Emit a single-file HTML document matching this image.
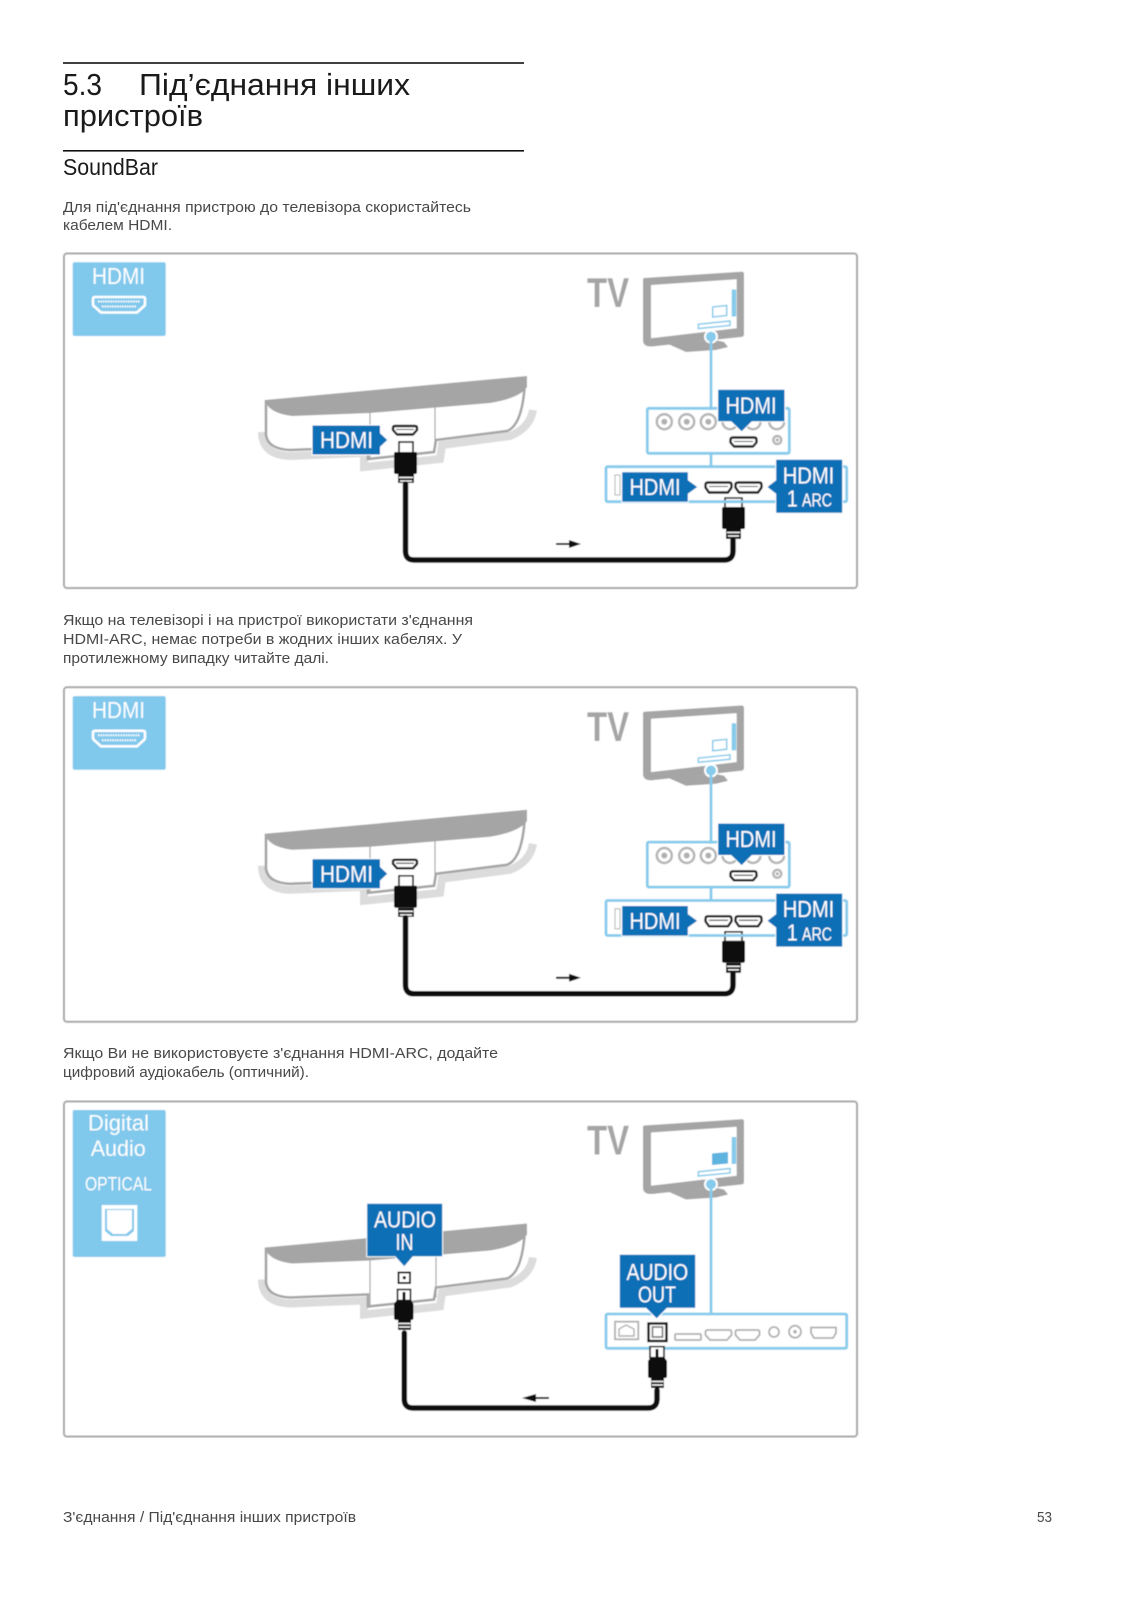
<!DOCTYPE html>
<html lang="uk"><head><meta charset="utf-8"><title>5.3 Під'єднання інших пристроїв</title>
<style>
html,body{margin:0;padding:0;background:#fff;width:1131px;height:1600px;overflow:hidden}
svg{display:block}
text{font-family:"Liberation Sans",sans-serif}
.b{font-size:15px;fill:#484848}
.w{fill:#fff}
.lb{fill:#0e6fb7;stroke:#fff;stroke-width:1;stroke-linejoin:round}
.pn{fill:none;stroke:#86cbec;stroke-width:2.8}
.pt{fill:#fff;stroke:#1a1a1a;stroke-width:2.4;stroke-linejoin:round}
.gr{fill:#fff;stroke:#b0b0b0;stroke-width:1.8}
.cb{fill:none;stroke:#0a0a0a;stroke-width:5.5;stroke-linecap:round}
.sh{fill:none;stroke:#dcdcdc;stroke-width:8}
.bd{fill:#fff;stroke:#a5a5a5;stroke-width:2.6}
</style></head><body>
<svg xmlns="http://www.w3.org/2000/svg" width="1131" height="1600" viewBox="0 0 1131 1600">
<defs><filter id="s" x="-2%" y="-2%" width="104%" height="104%"><feGaussianBlur stdDeviation="0.45"/></filter></defs>
<rect width="1131" height="1600" fill="#fff"/>
<rect x="63" y="62.2" width="461" height="1.6" fill="#111"/>
<rect x="63" y="150" width="461" height="1.6" fill="#111"/>
<text x="63" y="95" font-size="31" fill="#1a1a1a" textLength="39" lengthAdjust="spacingAndGlyphs">5.3</text>
<text x="139" y="95" font-size="31" fill="#1a1a1a" textLength="271" lengthAdjust="spacingAndGlyphs">Під’єднання інших</text>
<text x="63" y="126" font-size="31" fill="#1a1a1a" textLength="140" lengthAdjust="spacingAndGlyphs">пристроїв</text>
<text x="63" y="175" font-size="23" fill="#1a1a1a" textLength="95" lengthAdjust="spacingAndGlyphs">SoundBar</text>
<text class="b" x="63" y="212" textLength="408" lengthAdjust="spacingAndGlyphs">Для під'єднання пристрою до телевізора скористайтесь</text>
<text class="b" x="63" y="230" textLength="109" lengthAdjust="spacingAndGlyphs">кабелем HDMI.</text>
<text class="b" x="63" y="625" textLength="410" lengthAdjust="spacingAndGlyphs">Якщо на телевізорі і на пристрої використати з'єднання</text>
<text class="b" x="63" y="644" textLength="399" lengthAdjust="spacingAndGlyphs">HDMI-ARC, немає потреби в жодних інших кабелях. У</text>
<text class="b" x="63" y="663" textLength="266" lengthAdjust="spacingAndGlyphs">протилежному випадку читайте далі.</text>
<text class="b" x="63" y="1058" textLength="435" lengthAdjust="spacingAndGlyphs">Якщо Ви не використовуєте з'єднання HDMI-ARC, додайте</text>
<text class="b" x="63" y="1077" textLength="246" lengthAdjust="spacingAndGlyphs">цифровий аудіокабель (оптичний).</text>
<text class="b" x="63" y="1522" textLength="293" lengthAdjust="spacingAndGlyphs">З'єднання / Під'єднання інших пристроїв</text>
<text class="b" x="1037" y="1522" textLength="15" lengthAdjust="spacingAndGlyphs">53</text>

<!-- DIAGRAM 1 -->
<g filter="url(#s)">
<rect x="64" y="253.5" width="793" height="334.5" rx="3" fill="#fff" stroke="#a8a8a8" stroke-width="2"/>
<rect x="72.7" y="262.3" width="93" height="73.7" rx="2" fill="#80c8ec"/>
<text x="92" y="284" font-size="23.5" class="w" textLength="53" lengthAdjust="spacingAndGlyphs">HDMI</text>
<path d="M95 297H143Q145 297 145 299V304Q145 306 143 307L137 312.500H101L95 307Q93 306 93 304V299Q93 297 95 297Z" fill="none" stroke="#fff" stroke-width="2.600"/>
<path d="M98 301.500H140M102 306.500H136" stroke="#fff" stroke-width="2" stroke-dasharray="1.500 1"/>
<path class="sh" d="M262 432Q262 455 290 456L364 453V467L440 459L442 445L510 436Q530 428 533 410"/>
<path class="bd" d="M266 400V435Q268 449 290 450L368 447V459L434 452L436 440L507 431Q523 425 525 380"/>
<path d="M265 400L527 376V387Q520 398 490 403L370 413L292 416Q268 413 265 400Z" fill="#a5a5a5"/>
<path d="M370 412V459M435 405V450" stroke="#a5a5a5" stroke-width="1.200" fill="none"/>
<path class="lb" d="M312 425H380.500V433L388 440L380.500 447V455H312Z"/>
<text x="320" y="448" font-size="23.500" class="w" textLength="53" lengthAdjust="spacingAndGlyphs">HDMI</text>
<path class="pt" d="M395 426H415Q417 426 417 428V430L413 434.500H397L393 430V428Q393 426 395 426Z"/><path d="M396 429.500H414" stroke="#111" stroke-width="1"/>
<rect x="399" y="442" width="14" height="11" fill="#fff" stroke="#111" stroke-width="1.600"/>
<path d="M396 452H416Q417 452 417 454V472Q417 474 415 474H396Q394 474 394 472V454Q394 452 396 452Z" fill="#0a0a0a"/>
<path d="M398 474H414V483H398Z" fill="#111"/><path d="M399 477.500H413M400 481H412" stroke="#fff" stroke-width="1.400"/>
<path class="cb" d="M405.500 484V551Q405.500 560 414 560H724Q733 560 733 551V540"/>
<path d="M725 498H742V508H725Z" fill="#fff" stroke="#111" stroke-width="1.600"/>
<path d="M724 507H744Q745 507 745 509V527Q745 529 743 529H724Q722 529 722 527V509Q722 507 724 507Z" fill="#0a0a0a"/>
<path d="M726 529H741V539H726Z" fill="#111"/><path d="M727 532.500H740M728 536H739" stroke="#fff" stroke-width="1.400"/>
<path d="M556 544H570" stroke="#111" stroke-width="2"/><path d="M569 540L581 544L569 548Z" fill="#111"/>
<text x="587" y="307" font-size="42" font-weight="bold" fill="#a5a5a5" textLength="42" lengthAdjust="spacingAndGlyphs">TV</text>
<path d="M668 344L686 352L716 350L728 347L724 342L715 340Z" fill="#a5a5a5"/>
<path d="M644 278L741 271.700Q744 271.500 744 274V334Q744 337 741 337L652 346.500Q643 347 643 340V279Z" fill="#a5a5a5"/>
<path d="M651 285L736.700 279.300V328.300L651 338.300Z" fill="#fff"/>
<rect x="731.700" y="289.500" width="4.500" height="27" fill="#86cbec"/>
<path d="M712.700 307L726.700 305.500V315.500L712.700 317Z" fill="none" stroke="#86cbec" stroke-width="1.500"/>
<path d="M698.300 324.300L730 321V325.500L698.300 328.500Z" fill="none" stroke="#86cbec" stroke-width="1.500"/>
<circle cx="711" cy="336.700" r="7" fill="#fff"/><circle cx="711" cy="336.700" r="5" fill="#86cbec"/>
<path d="M711 340V410M711 453V467" stroke="#86cbec" stroke-width="2.800"/>
<rect class="pn" x="647.300" y="408.300" width="142" height="45" rx="1.500"/>
<g fill="#fff" stroke="#b5b5b5" stroke-width="2.500"><circle cx="664.300" cy="421.700" r="7.500"/><circle cx="686.700" cy="421.700" r="7.500"/><circle cx="708.300" cy="421.700" r="7.500"/><circle cx="730" cy="421.700" r="7.500"/><circle cx="753" cy="421.700" r="7.500"/><circle cx="776.700" cy="421.700" r="7.500"/><circle cx="777.300" cy="440" r="4"/></g>
<g fill="#b0b0b0"><circle cx="664.300" cy="421.700" r="3"/><circle cx="686.700" cy="421.700" r="3"/><circle cx="708.300" cy="421.700" r="3"/><circle cx="777.300" cy="440" r="1.600"/></g>
<path class="lb" d="M717.700 389.300H785V421.700H752L741.700 432L731 421.700H717.700Z"/>
<text x="725.500" y="413.300" font-size="23.500" class="w" textLength="51" lengthAdjust="spacingAndGlyphs">HDMI</text>
<path class="pt" d="M733 437.500H754.500Q756.500 437.500 756.500 440V442.500L753 446.500H734L730.500 442.500V440Q730.500 437.500 733 437.500Z"/><path d="M734 441.500H753" stroke="#111" stroke-width="1"/>
<rect class="pn" x="606" y="466.700" width="240.700" height="35" rx="1.500"/>
<rect x="615" y="475" width="5" height="20" fill="#fff" stroke="#b0b0b0"/>
<path class="lb" d="M621.700 471.700H688.300V480L698 487L688.300 494V502.300H621.700Z"/>
<text x="629.500" y="495" font-size="23.500" class="w" textLength="51" lengthAdjust="spacingAndGlyphs">HDMI</text>
<path class="pt" d="M708 482.500H729.500Q731.500 482.500 731.500 485V487.500L728 492.500H709L705.500 487.500V485Q705.500 482.500 708 482.500Z"/><path d="M709 486.500H728" stroke="#111" stroke-width="1"/>
<path class="pt" d="M738 482.500H759.500Q761.500 482.500 761.500 485V487.500L758 492.500H739L735.500 487.500V485Q735.500 482.500 738 482.500Z"/><path d="M739 486.500H758" stroke="#111" stroke-width="1"/>
<path class="lb" d="M775.700 459.300H842.700V513.300H775.700V494L766.700 487L775.700 480Z"/>
<text x="782.700" y="483.300" font-size="23.500" class="w" textLength="51.600" lengthAdjust="spacingAndGlyphs">HDMI</text>
<text x="786.700" y="506.700" font-size="23.500" class="w" textLength="11" lengthAdjust="spacingAndGlyphs">1</text>
<text x="802" y="506.700" font-size="18" class="w" textLength="30" lengthAdjust="spacingAndGlyphs">ARC</text>
</g>

<!-- DIAGRAM 2 -->
<g filter="url(#s)" transform="translate(0,433.800)">
<rect x="64" y="253.5" width="793" height="334.5" rx="3" fill="#fff" stroke="#a8a8a8" stroke-width="2"/>
<rect x="72.7" y="262.3" width="93" height="73.7" rx="2" fill="#80c8ec"/>
<text x="92" y="284" font-size="23.5" class="w" textLength="53" lengthAdjust="spacingAndGlyphs">HDMI</text>
<path d="M95 297H143Q145 297 145 299V304Q145 306 143 307L137 312.500H101L95 307Q93 306 93 304V299Q93 297 95 297Z" fill="none" stroke="#fff" stroke-width="2.600"/>
<path d="M98 301.500H140M102 306.500H136" stroke="#fff" stroke-width="2" stroke-dasharray="1.500 1"/>
<path class="sh" d="M262 432Q262 455 290 456L364 453V467L440 459L442 445L510 436Q530 428 533 410"/>
<path class="bd" d="M266 400V435Q268 449 290 450L368 447V459L434 452L436 440L507 431Q523 425 525 380"/>
<path d="M265 400L527 376V387Q520 398 490 403L370 413L292 416Q268 413 265 400Z" fill="#a5a5a5"/>
<path d="M370 412V459M435 405V450" stroke="#a5a5a5" stroke-width="1.200" fill="none"/>
<path class="lb" d="M312 425H380.500V433L388 440L380.500 447V455H312Z"/>
<text x="320" y="448" font-size="23.500" class="w" textLength="53" lengthAdjust="spacingAndGlyphs">HDMI</text>
<path class="pt" d="M395 426H415Q417 426 417 428V430L413 434.500H397L393 430V428Q393 426 395 426Z"/><path d="M396 429.500H414" stroke="#111" stroke-width="1"/>
<rect x="399" y="442" width="14" height="11" fill="#fff" stroke="#111" stroke-width="1.600"/>
<path d="M396 452H416Q417 452 417 454V472Q417 474 415 474H396Q394 474 394 472V454Q394 452 396 452Z" fill="#0a0a0a"/>
<path d="M398 474H414V483H398Z" fill="#111"/><path d="M399 477.500H413M400 481H412" stroke="#fff" stroke-width="1.400"/>
<path class="cb" d="M405.500 484V551Q405.500 560 414 560H724Q733 560 733 551V540"/>
<path d="M725 498H742V508H725Z" fill="#fff" stroke="#111" stroke-width="1.600"/>
<path d="M724 507H744Q745 507 745 509V527Q745 529 743 529H724Q722 529 722 527V509Q722 507 724 507Z" fill="#0a0a0a"/>
<path d="M726 529H741V539H726Z" fill="#111"/><path d="M727 532.500H740M728 536H739" stroke="#fff" stroke-width="1.400"/>
<path d="M556 544H570" stroke="#111" stroke-width="2"/><path d="M569 540L581 544L569 548Z" fill="#111"/>
<text x="587" y="307" font-size="42" font-weight="bold" fill="#a5a5a5" textLength="42" lengthAdjust="spacingAndGlyphs">TV</text>
<path d="M668 344L686 352L716 350L728 347L724 342L715 340Z" fill="#a5a5a5"/>
<path d="M644 278L741 271.700Q744 271.500 744 274V334Q744 337 741 337L652 346.500Q643 347 643 340V279Z" fill="#a5a5a5"/>
<path d="M651 285L736.700 279.300V328.300L651 338.300Z" fill="#fff"/>
<rect x="731.700" y="289.500" width="4.500" height="27" fill="#86cbec"/>
<path d="M712.700 307L726.700 305.500V315.500L712.700 317Z" fill="none" stroke="#86cbec" stroke-width="1.500"/>
<path d="M698.300 324.300L730 321V325.500L698.300 328.500Z" fill="none" stroke="#86cbec" stroke-width="1.500"/>
<circle cx="711" cy="336.700" r="7" fill="#fff"/><circle cx="711" cy="336.700" r="5" fill="#86cbec"/>
<path d="M711 340V410M711 453V467" stroke="#86cbec" stroke-width="2.800"/>
<rect class="pn" x="647.300" y="408.300" width="142" height="45" rx="1.500"/>
<g fill="#fff" stroke="#b5b5b5" stroke-width="2.500"><circle cx="664.300" cy="421.700" r="7.500"/><circle cx="686.700" cy="421.700" r="7.500"/><circle cx="708.300" cy="421.700" r="7.500"/><circle cx="730" cy="421.700" r="7.500"/><circle cx="753" cy="421.700" r="7.500"/><circle cx="776.700" cy="421.700" r="7.500"/><circle cx="777.300" cy="440" r="4"/></g>
<g fill="#b0b0b0"><circle cx="664.300" cy="421.700" r="3"/><circle cx="686.700" cy="421.700" r="3"/><circle cx="708.300" cy="421.700" r="3"/><circle cx="777.300" cy="440" r="1.600"/></g>
<path class="lb" d="M717.700 389.300H785V421.700H752L741.700 432L731 421.700H717.700Z"/>
<text x="725.500" y="413.300" font-size="23.500" class="w" textLength="51" lengthAdjust="spacingAndGlyphs">HDMI</text>
<path class="pt" d="M733 437.500H754.500Q756.500 437.500 756.500 440V442.500L753 446.500H734L730.500 442.500V440Q730.500 437.500 733 437.500Z"/><path d="M734 441.500H753" stroke="#111" stroke-width="1"/>
<rect class="pn" x="606" y="466.700" width="240.700" height="35" rx="1.500"/>
<rect x="615" y="475" width="5" height="20" fill="#fff" stroke="#b0b0b0"/>
<path class="lb" d="M621.700 471.700H688.300V480L698 487L688.300 494V502.300H621.700Z"/>
<text x="629.500" y="495" font-size="23.500" class="w" textLength="51" lengthAdjust="spacingAndGlyphs">HDMI</text>
<path class="pt" d="M708 482.500H729.500Q731.500 482.500 731.500 485V487.500L728 492.500H709L705.500 487.500V485Q705.500 482.500 708 482.500Z"/><path d="M709 486.500H728" stroke="#111" stroke-width="1"/>
<path class="pt" d="M738 482.500H759.500Q761.500 482.500 761.500 485V487.500L758 492.500H739L735.500 487.500V485Q735.500 482.500 738 482.500Z"/><path d="M739 486.500H758" stroke="#111" stroke-width="1"/>
<path class="lb" d="M775.700 459.300H842.700V513.300H775.700V494L766.700 487L775.700 480Z"/>
<text x="782.700" y="483.300" font-size="23.500" class="w" textLength="51.600" lengthAdjust="spacingAndGlyphs">HDMI</text>
<text x="786.700" y="506.700" font-size="23.500" class="w" textLength="11" lengthAdjust="spacingAndGlyphs">1</text>
<text x="802" y="506.700" font-size="18" class="w" textLength="30" lengthAdjust="spacingAndGlyphs">ARC</text>
</g>

<!-- DIAGRAM 3 -->
<g filter="url(#s)">
<rect x="64" y="1101.500" width="793" height="335" rx="3" fill="#fff" stroke="#a8a8a8" stroke-width="2"/>
<rect x="72.700" y="1110" width="93" height="147" rx="2" fill="#80c8ec"/>
<text x="88" y="1130.700" font-size="22.500" class="w" textLength="61" lengthAdjust="spacingAndGlyphs">Digital</text>
<text x="90.700" y="1156" font-size="22.500" class="w" textLength="55" lengthAdjust="spacingAndGlyphs">Audio</text>
<text x="85" y="1190.700" font-size="19" class="w" textLength="67" lengthAdjust="spacingAndGlyphs">OPTICAL</text>
<rect x="101.700" y="1205" width="35.600" height="36" fill="#fff"/>
<path d="M105 1209H134V1231L128 1236H111L105 1231Z" fill="#80c8ec"/><path d="M107 1210H132V1229L126 1234H113L107 1229Z" fill="#fff"/>
<g transform="translate(0,847.500)">
<path class="sh" d="M262 432Q262 455 290 456L364 453V467L440 459L442 445L510 436Q530 428 533 410"/>
<path class="bd" d="M266 400V435Q268 449 290 450L368 447V459L434 452L436 440L507 431Q523 425 525 380"/>
<path d="M265 400L527 376V387Q520 398 490 403L370 413L292 416Q268 413 265 400Z" fill="#a5a5a5"/>
<path d="M370 412V459M436 405V450" stroke="#a5a5a5" stroke-width="1.200" fill="none"/>
<text x="587" y="307" font-size="42" font-weight="bold" fill="#a5a5a5" textLength="42" lengthAdjust="spacingAndGlyphs">TV</text>
<path d="M668 344L686 352L716 350L728 347L724 342L715 340Z" fill="#a5a5a5"/>
<path d="M644 278L741 271.700Q744 271.500 744 274V334Q744 337 741 337L652 346.500Q643 347 643 340V279Z" fill="#a5a5a5"/>
<path d="M651 285L736.700 279.300V328.300L651 338.300Z" fill="#fff"/>
<rect x="731.700" y="289.500" width="4.500" height="27" fill="#86cbec"/>
<path d="M712 306L728 304.500V316L712 317.500Z" fill="#5fb3df"/>
<path d="M698.300 324.300L730 321V325.500L698.300 328.500Z" fill="none" stroke="#86cbec" stroke-width="1.500"/>
<circle cx="711" cy="336.700" r="7" fill="#fff"/><circle cx="711" cy="336.700" r="5" fill="#86cbec"/>
<path d="M711 340V467" stroke="#86cbec" stroke-width="2.800"/>
</g>
<rect class="pn" x="606" y="1314" width="240.700" height="34.300" rx="1.500"/>
<rect x="615" y="1321.700" width="23.300" height="17.600" fill="#fff" stroke="#b0b0b0" stroke-width="1.800"/>
<path d="M619 1336V1329L626 1325L634 1329V1336Z" fill="none" stroke="#b0b0b0" stroke-width="1.400"/>
<rect x="648.500" y="1323.500" width="18" height="17.500" fill="#fff" stroke="#111" stroke-width="2.400"/>
<rect x="652.500" y="1327" width="10" height="10" fill="#fff" stroke="#777" stroke-width="1.600"/>
<rect class="gr" x="675" y="1334" width="26" height="6" rx="1"/>
<path class="gr" d="M707.500 1330H729.500Q731.500 1330 731.500 1332V1335L727 1340H710L705.500 1335V1332Q705.500 1330 707.500 1330Z"/>
<path class="gr" d="M737.500 1330H757.500Q759.500 1330 759.500 1332V1335L755 1340H740L735.500 1335V1332Q735.500 1330 737.500 1330Z"/>
<circle class="gr" cx="774" cy="1332" r="5"/>
<circle class="gr" cx="795" cy="1331.700" r="6"/><circle cx="795" cy="1331.700" r="1.800" fill="#b0b0b0"/>
<path class="gr" d="M811 1327.500H836V1333L833 1338H814L811 1333Z"/>
<path class="lb" d="M619.300 1254.300H695.700V1308.300H667L656.700 1319L646 1308.300H619.300Z"/>
<text x="626.500" y="1280" font-size="23.500" class="w" textLength="61.700" lengthAdjust="spacingAndGlyphs">AUDIO</text>
<text x="638" y="1302.300" font-size="23.500" class="w" textLength="38" lengthAdjust="spacingAndGlyphs">OUT</text>
<path class="lb" d="M366.700 1203.300H442.700V1256.700H413L404.300 1267L395 1256.700H366.700Z"/>
<text x="374" y="1227.300" font-size="23.500" class="w" textLength="62" lengthAdjust="spacingAndGlyphs">AUDIO</text>
<text x="395.500" y="1250" font-size="23.500" class="w" textLength="18" lengthAdjust="spacingAndGlyphs">IN</text>
<rect x="398.500" y="1272.500" width="11.500" height="10.500" fill="#fff" stroke="#111" stroke-width="2"/><circle cx="404.300" cy="1277.700" r="1.600" fill="#111"/>
<rect x="397.500" y="1289.500" width="13" height="11" fill="#fff" stroke="#111" stroke-width="1.600"/><rect x="402.500" y="1292" width="3" height="8" fill="#111"/>
<path d="M397 1300H411L413.500 1304V1318Q413.500 1320 411 1320H397Q394 1320 394 1318V1304Z" fill="#0a0a0a"/>
<path d="M398 1320H411V1330H398Z" fill="#111"/><path d="M398.500 1323.500H410.500M399 1327H410" stroke="#fff" stroke-width="1.400"/>
<rect x="650" y="1346.700" width="14" height="11" fill="#fff" stroke="#111" stroke-width="1.600"/><rect x="655.500" y="1349" width="3" height="8" fill="#111"/>
<path d="M651 1357H664L667 1361V1376Q667 1378 665 1378H650Q648 1378 648 1376V1361Z" fill="#0a0a0a"/>
<path d="M651 1378H664V1388H651Z" fill="#111"/><path d="M651.500 1381.500H663.500M652 1385H663" stroke="#fff" stroke-width="1.400"/>
<path class="cb" d="M404.300 1333V1399Q404.300 1408 413 1408H648Q657 1408 657 1399V1390"/>
<path d="M535 1398H549" stroke="#111" stroke-width="2"/><path d="M536 1394L522 1398L536 1402Z" fill="#111"/>
</g>
</svg>
</body></html>
